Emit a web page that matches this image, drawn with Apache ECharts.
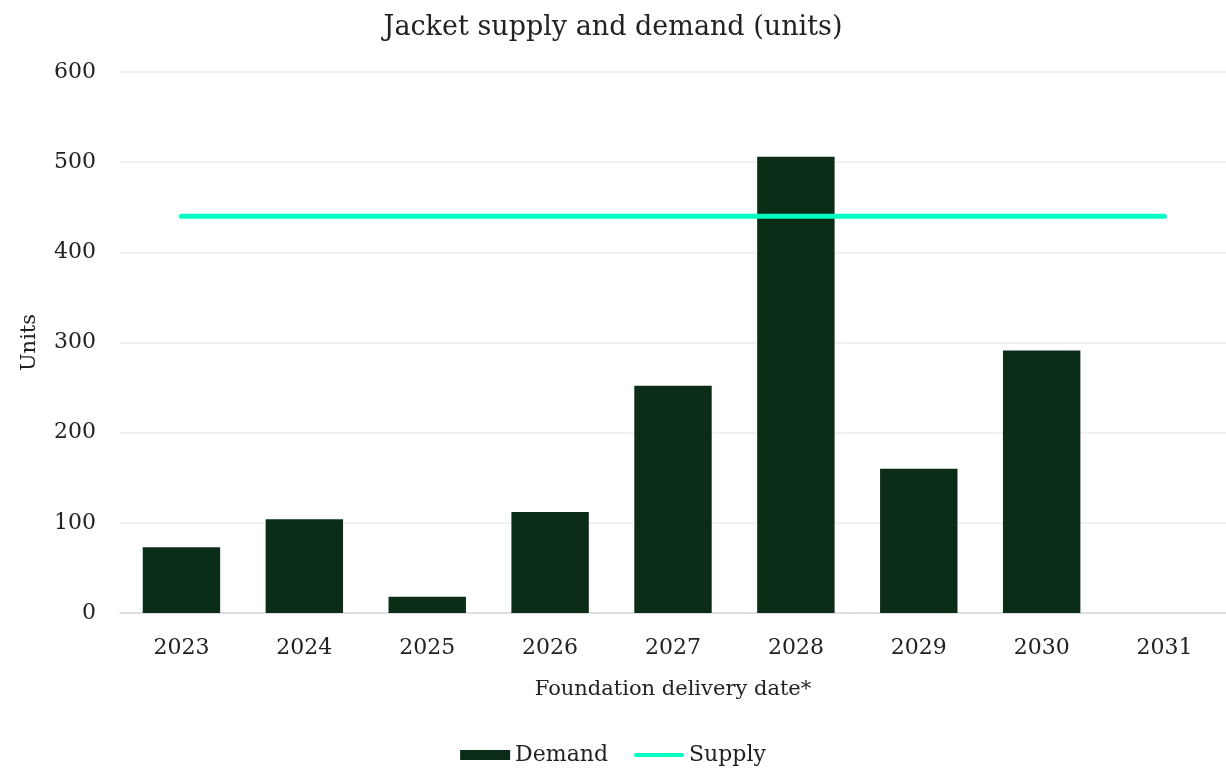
<!DOCTYPE html>
<html><head><meta charset="utf-8">
<script src="https://cdn.jsdelivr.net/npm/echarts@6/dist/echarts.min.js"></script>
<style>html,body{margin:0;padding:0;background:#fff}#c{width:1226px;height:772px}</style>
</head><body><div id="c"></div>
<script>
const categories = ['2023','2024','2025','2026','2027','2028','2029','2030','2031'];
const demand = [73, 104, 18, 112, 252, 506, 160, 291, null];
const supply = [440, 440, 440, 440, 440, 440, 440, 440, 440];
const yTicks = { min: 0, max: 600, interval: 100 };
const FONT = 'DejaVu Serif';
const chart = echarts.init(document.getElementById('c'));
chart.setOption({
  animation: false,
  textStyle: { fontFamily: FONT, color: '#222' },
  title: { text: 'Jacket supply and demand (units)', left: 'center', top: 9,
    textStyle: { fontFamily: FONT, fontSize: 27, fontWeight: 'normal', color: '#222' } },
  grid: { left: 120, right: 0, top: 72, bottom: 159 },
  legend: { bottom: 1, left: 'center', itemWidth: 50, itemHeight: 10, itemGap: 26,
    textStyle: { fontFamily: FONT, fontSize: 22, color: '#222' },
    data: [{ name: 'Demand', icon: 'rect' },
           { name: 'Supply', icon: 'path://M2,0 H48 A2,2 0 0 1 48,4 H2 A2,2 0 0 1 2,0 Z' }] },
  xAxis: { type: 'category', data: categories,
    axisLine: { lineStyle: { color: '#d9d9d9', width: 1.5 } }, axisTick: { show: false },
    axisLabel: { fontFamily: FONT, fontSize: 22, color: '#222', margin: 24 },
    name: 'Foundation delivery date*', nameLocation: 'middle', nameGap: 66,
    nameTextStyle: { fontFamily: FONT, fontSize: 21, color: '#222' } },
  yAxis: { type: 'value', min: yTicks.min, max: yTicks.max, interval: yTicks.interval,
    axisLabel: { fontFamily: FONT, fontSize: 22, color: '#222', margin: 24 },
    splitLine: { lineStyle: { color: '#eeeeee', width: 1.5 } },
    name: 'Units', nameLocation: 'middle', nameGap: 80,
    nameTextStyle: { fontFamily: FONT, fontSize: 21, color: '#222' } },
  series: [
    { name: 'Demand', type: 'bar', data: demand, barWidth: '63%',
      itemStyle: { color: '#0b2d17' } },
    { name: 'Supply', type: 'line', data: supply, symbol: 'none',
      lineStyle: { color: '#00ffc0', width: 5, cap: 'round' }, itemStyle: { color: '#00ffc0' } }
  ]
});
</script></body></html>
